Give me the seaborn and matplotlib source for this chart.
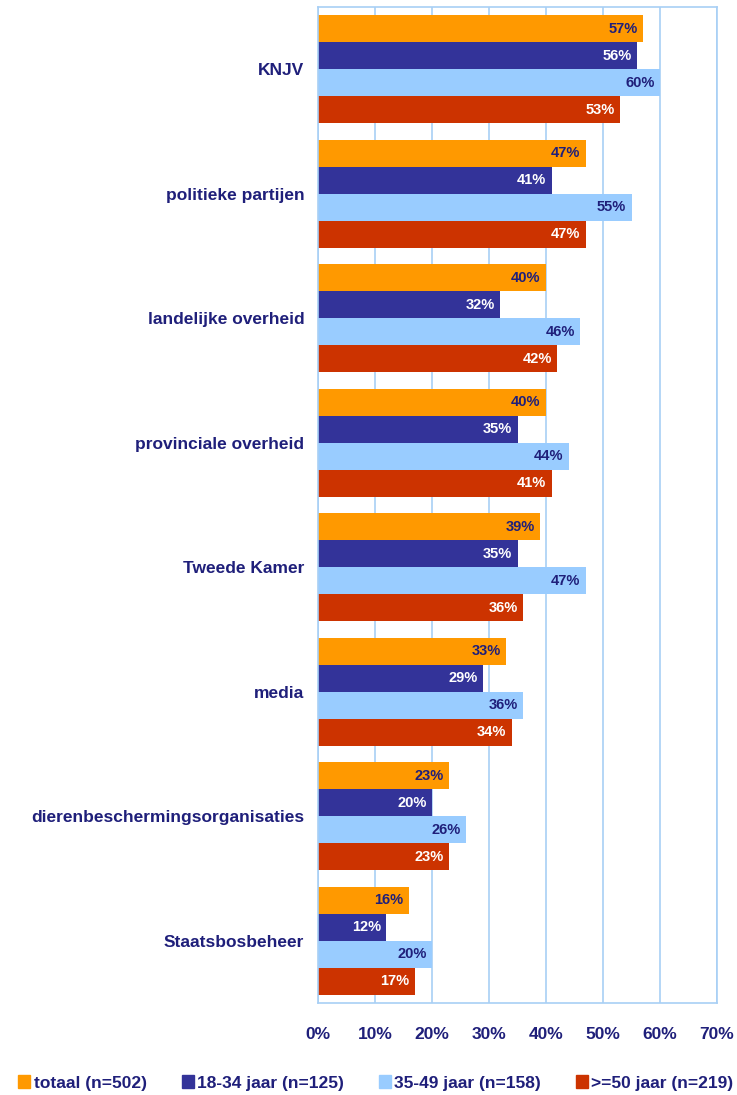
import matplotlib
matplotlib.use("Agg")
import matplotlib.pyplot as plt
import seaborn as sns
import pandas as pd

categories = ["KNJV", "politieke partijen", "landelijke overheid", "provinciale overheid",
              "Tweede Kamer", "media", "dierenbeschermingsorganisaties", "Staatsbosbeheer"]
series_names = ["totaal (n=502)", "18-34 jaar (n=125)", "35-49 jaar (n=158)", ">=50 jaar (n=219)"]
totaal = [57, 47, 40, 40, 39, 33, 23, 16]
jaar_18_34 = [56, 41, 32, 35, 35, 29, 20, 12]
jaar_35_49 = [60, 55, 46, 44, 47, 36, 26, 20]
jaar_50plus = [53, 47, 42, 41, 36, 34, 23, 17]
x_ticks = [0, 10, 20, 30, 40, 50, 60, 70]

colors = ["#FF9900", "#333399", "#99CCFF", "#CC3300"]
label_colors = ["#1F1F7A", "white", "#1F1F7A", "white"]
navy = "#1F1F7A"
grid_c = "#A8CFF5"

rows = []
for name, vals in zip(series_names, [totaal, jaar_18_34, jaar_35_49, jaar_50plus]):
    for c, v in zip(categories, vals):
        rows.append({"categorie": c, "groep": name, "waarde": v})
df = pd.DataFrame(rows)

sns.set_theme(style="white")
plt.rcParams["font.family"] = ["Liberation Sans", "DejaVu Sans"]

fig = plt.figure(figsize=(7.37, 10.95), dpi=100)
ax = fig.add_axes([0.4315, 0.084, 0.5415, 0.9096])

sns.barplot(data=df, y="categorie", x="waarde", hue="groep", order=categories,
            hue_order=series_names, palette=colors, orient="h", width=0.87,
            linewidth=0, saturation=1, ax=ax, legend=False)

ax.set_xlim(0, 70)
ax.set_xticks(x_ticks)
ax.set_xticklabels([f"{t}%" for t in x_ticks], fontsize=12.5, fontweight="bold", color=navy)
ax.set_yticklabels(categories, fontsize=12.5, fontweight="bold", color=navy)
ax.tick_params(axis="y", length=0, pad=10)
ax.tick_params(axis="x", length=0, pad=17)
ax.set_xlabel("")
ax.set_ylabel("")
ax.xaxis.grid(True, color=grid_c, linewidth=1.2)
ax.set_axisbelow(True)
for s in ax.spines.values():
    s.set_color(grid_c)
    s.set_linewidth(1.2)
    s.set_visible(True)

for cont, lc in zip(ax.containers, label_colors):
    texts = ax.bar_label(cont, labels=[f"{int(round(p.get_width()))}%" for p in cont],
                         padding=-4, fontsize=10.5, fontweight="bold", color=lc)
    for t in texts:
        t.set_ha("right")

handles = [plt.Rectangle((0, 0), 1, 1, color=c) for c in colors]
fig.legend(handles, series_names, loc="center", bbox_to_anchor=(0.51, 0.011),
           ncol=4, frameon=False, handlelength=0.7, handleheight=0.7,
           handletextpad=0.2, columnspacing=2.0, prop={"weight": "bold", "size": 12.5},
           labelcolor=navy)

fig.savefig("out.png", dpi=100)
